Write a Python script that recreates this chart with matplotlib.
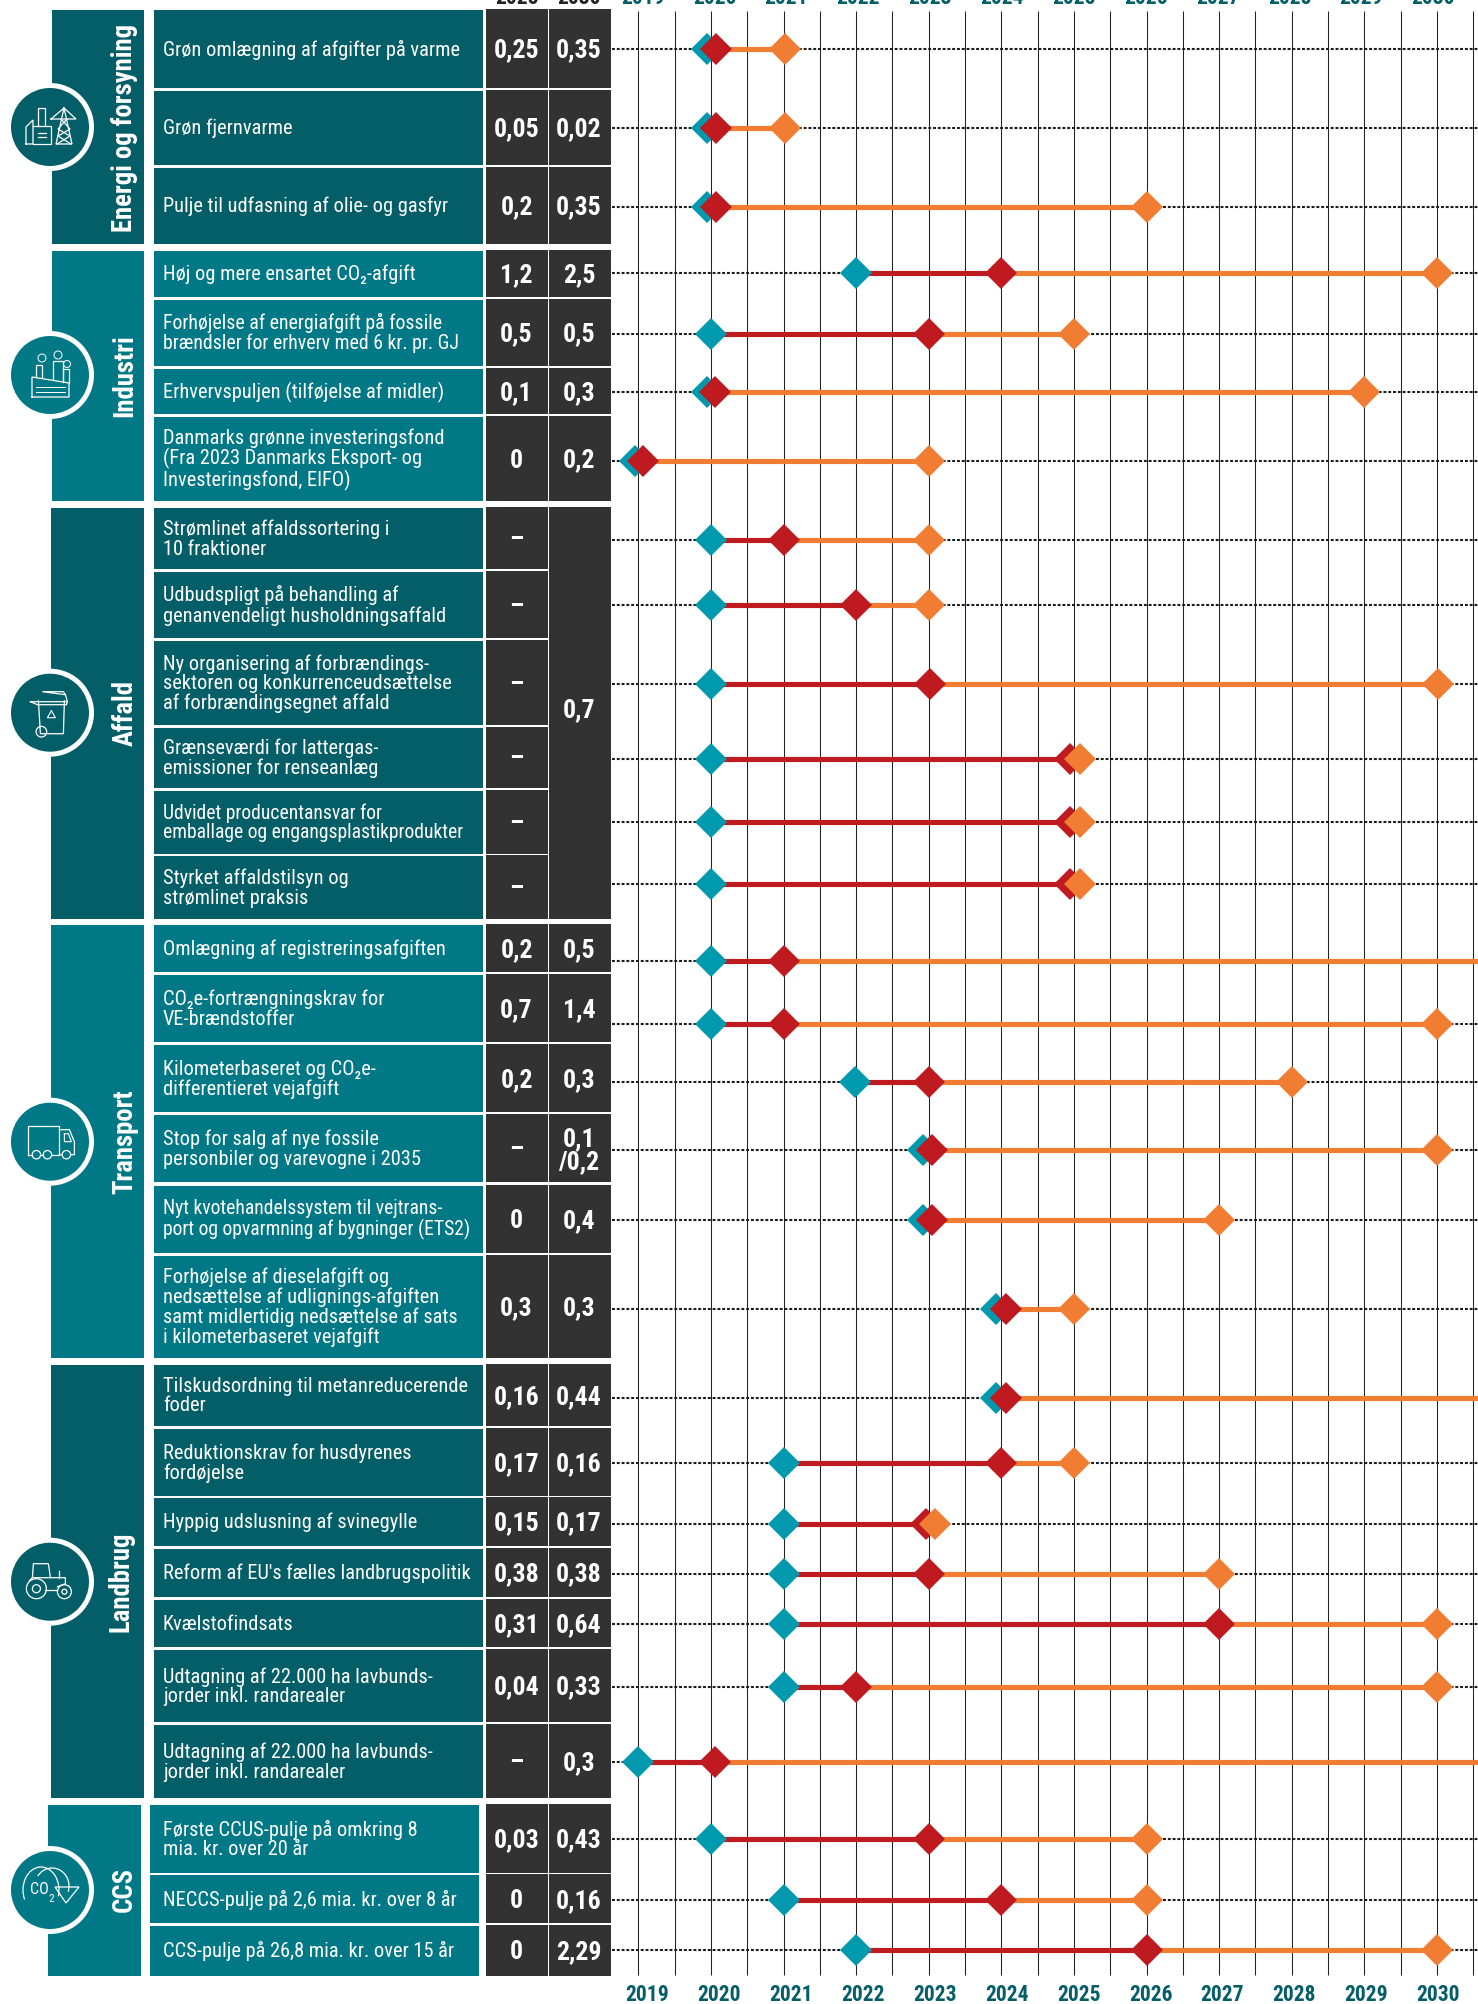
import numpy as np
import matplotlib
matplotlib.use("Agg")
import matplotlib.pyplot as plt
from matplotlib.patches import Rectangle, Circle, Arc, Polygon

W, H = 1478, 2004
dark_teal = "#045E67"
light_teal = "#017885"
cell_dark = "#323232"
teal = "#0099AD"
red = "#BE1A20"
orange = "#F07D32"

# chart data
groups = ["Energi og forsyning", "Industri", "Affald", "Transport", "Landbrug", "CCS"]
group_sizes = [3, 4, 6, 6, 7, 3]

measures = [
    "Grøn omlægning af afgifter på varme",
    "Grøn fjernvarme",
    "Pulje til udfasning af olie- og gasfyr",
    "Høj og mere ensartet CO₂-afgift",
    "Forhøjelse af energiafgift på fossile\nbrændsler for erhverv med 6 kr. pr. GJ",
    "Erhvervspuljen (tilføjelse af midler)",
    "Danmarks grønne investeringsfond\n(Fra 2023 Danmarks Eksport- og\nInvesteringsfond, EIFO)",
    "Strømlinet affaldssortering i\n10 fraktioner",
    "Udbudspligt på behandling af\ngenanvendeligt husholdningsaffald",
    "Ny organisering af forbrændings-\nsektoren og konkurrenceudsættelse\naf forbrændingsegnet affald",
    "Grænseværdi for lattergas-\nemissioner for renseanlæg",
    "Udvidet producentansvar for\nemballage og engangsplastikprodukter",
    "Styrket affaldstilsyn og\nstrømlinet praksis",
    "Omlægning af registreringsafgiften",
    "CO₂e-fortrængningskrav for\nVE-brændstoffer",
    "Kilometerbaseret og CO₂e-\ndifferentieret vejafgift",
    "Stop for salg af nye fossile\npersonbiler og varevogne i 2035",
    "Nyt kvotehandelssystem til vejtrans-\nport og opvarmning af bygninger (ETS2)",
    "Forhøjelse af dieselafgift og\nnedsættelse af udlignings-afgiften\nsamt midlertidig nedsættelse af sats\ni kilometerbaseret vejafgift",
    "Tilskudsordning til metanreducerende\nfoder",
    "Reduktionskrav for husdyrenes\nfordøjelse",
    "Hyppig udslusning af svinegylle",
    "Reform af EU's fælles landbrugspolitik",
    "Kvælstofindsats",
    "Udtagning af 22.000 ha lavbunds-\njorder inkl. randarealer",
    "Udtagning af 22.000 ha lavbunds-\njorder inkl. randarealer",
    "Første CCUS-pulje på omkring 8\nmia. kr. over 20 år",
    "NECCS-pulje på 2,6 mia. kr. over 8 år",
    "CCS-pulje på 26,8 mia. kr. over 15 år",
]

vals_2025 = ["0,25", "0,05", "0,2", "1,2", "0,5", "0,1", "0",
             "–", "–", "–", "–", "–", "–",
             "0,2", "0,7", "0,2", "–", "0", "0,3",
             "0,16", "0,17", "0,15", "0,38", "0,31", "0,04", "–",
             "0,03", "0", "0"]
vals_2030 = ["0,35", "0,02", "0,35", "2,5", "0,5", "0,3", "0,2",
             "", "", "", "", "", "",
             "0,5", "1,4", "0,3", "0,1\n/0,2", "0,4", "0,3",
             "0,44", "0,16", "0,17", "0,38", "0,64", "0,33", "0,3",
             "0,43", "0,16", "2,29"]
affald_2030 = "0,7"

start_year = [2019.94, 2019.94, 2019.94, 2022, 2020, 2019.94, 2018.95,
              2020, 2020, 2020, 2020, 2020, 2020,
              2020, 2020, 2021.99, 2022.92, 2022.92, 2023.93,
              2023.93, 2021, 2021, 2021, 2021, 2021, 2019,
              2020, 2021, 2022]
mid_year = [2020.07, 2020.07, 2020.07, 2024, 2023, 2020.06, 2019.06,
            2021, 2022, 2023.02, 2024.95, 2024.95, 2024.95,
            2021, 2021, 2023, 2023.05, 2023.05, 2024.07,
            2024.07, 2024, 2022.96, 2023, 2027, 2022, 2020.05,
            2023, 2024, 2026]
# nan = runs on past the right edge, no end marker
end_year = [2021.02, 2021.02, 2026.01, 2030, 2025, 2029, 2023,
            2023, 2023, 2030.01, 2025.08, 2025.08, 2025.08,
            np.nan, 2030, 2028, 2030, 2027, 2025,
            np.nan, 2025, 2023.09, 2027, 2030, 2030, np.nan,
            2026, 2026, 2030]

years = list(range(2019, 2031))

# layout in pixels of the picture
row_top = [10, 90.7, 168, 251, 299.7, 368.7, 417.3,
           508, 571.7, 641, 727.7, 791, 856.3,
           925, 975, 1045, 1115.3, 1185.7, 1255.7,
           1365, 1429, 1498, 1548.7, 1599.7, 1650, 1725,
           1805, 1875.3, 1926]
row_bot = [88, 165, 244, 296.7, 366, 414.3, 501,
           569, 638.3, 725.3, 788.3, 853.7, 919,
           972.3, 1042.3, 1112.3, 1182.3, 1253, 1358,
           1426.3, 1495.7, 1546, 1597, 1647.3, 1722.3, 1798,
           1872.7, 1923.3, 1975.7]
line_y = [49, 128, 207, 273, 334.4, 392, 460.9,
          539.5, 605, 684, 758.5, 822, 883.8,
          961.3, 1023.7, 1081.7, 1150.3, 1219.7, 1309.3,
          1398.3, 1463.3, 1524, 1574, 1624.3, 1687, 1761.7,
          1839.3, 1900, 1950.3]
group_x = [(52, 144), (52, 144), (51, 144), (51, 144), (51, 144), (48, 141)]
row_x = [(154, 483), (154, 483), (154, 483), (154, 483), (154, 483), (150, 479)]
group_colors = [dark_teal, light_teal, dark_teal, light_teal, dark_teal, light_teal]
circle_y = [127, 375, 712.7, 1141.7, 1581.7, 1890]
label_base_x = [131.6, 132.6, 132.6, 132.6, 128.6, 131.6]
label_y = [127.5, 376, 713, 1141.7, 1581.7, 1890]
# these rows are set tighter in the original
tight_rows = {4: 14.3, 11: 14.1, 17: 14.1}

fig = plt.figure(figsize=(W / 100, H / 100), dpi=100, facecolor="white")
ax = fig.add_axes([0, 0, 1, 1])
ax.set_xlim(0, W)
ax.set_ylim(H, 0)
ax.axis("off")

# timeline axes, x in years
tl = fig.add_axes([612 / W, 0, (W - 612) / W, 1])
tl.set_xlim(2020 + (612 - 711) / 72.6, 2020 + (W - 711) / 72.6)
tl.set_ylim(H, 0)
tl.axis("off")

for yr in np.arange(2019, 2031, 0.5):
    tl.plot([yr, yr], [11, 1975], color="#222222", lw=0.75, zorder=1, solid_capstyle="butt")

right_edge = tl.get_xlim()[1]
for i, y in enumerate(line_y):
    tl.plot([tl.get_xlim()[0], right_edge], [y, y], color="#1c1c1c", lw=1.5,
            dashes=(1.4, 0.9), zorder=2)
    end = end_year[i] if not np.isnan(end_year[i]) else right_edge
    tl.plot([mid_year[i], end], [y, y], color=orange, lw=3.7, zorder=3, solid_capstyle="butt")
    tl.plot([start_year[i], mid_year[i]], [y, y], color=red, lw=3.7, zorder=3, solid_capstyle="butt")
    tl.plot(start_year[i], y, marker="D", ms=16.2, color=teal, mew=0, zorder=4)
    tl.plot(mid_year[i], y, marker="D", ms=16.2, color=red, mew=0, zorder=5)
    if not np.isnan(end_year[i]):
        tl.plot(end_year[i], y, marker="D", ms=16.2, color=orange, mew=0, zorder=6)

# year labels, top ones are cut by the edge of the picture
for n, yr in enumerate(years):
    tl.text(2019.125 + n * 0.99, 2001, str(yr), ha="center", va="baseline", color=dark_teal,
            family="Roboto Condensed", weight="bold", fontsize=15.5)
    tl.text(2019.06 + n * 0.99, 3.5, str(yr), ha="center", va="baseline", color=dark_teal,
            family="Roboto Condensed", weight="bold", fontsize=15.5, clip_on=False)
ax.text(516.5, 3.5, "2025", ha="center", va="baseline", color="#222222",
        family="Roboto Condensed", weight="bold", fontsize=15.5)
ax.text(579, 3.5, "2030", ha="center", va="baseline", color="#222222",
        family="Roboto Condensed", weight="bold", fontsize=15.5)

# table rows
k = 0
for g, name in enumerate(groups):
    n = group_sizes[g]
    top, bot = row_top[k], row_bot[k + n - 1]
    x0, x1 = group_x[g]
    ax.add_patch(Rectangle((x0, top), x1 - x0, bot - top, fc=group_colors[g], ec="none"))
    for i in range(k, k + n):
        rx0, rx1 = row_x[g]
        ax.add_patch(Rectangle((rx0, row_top[i]), rx1 - rx0, row_bot[i] - row_top[i],
                               fc=group_colors[g], ec="none"))
        yc = (row_top[i] + row_bot[i]) / 2
        ax.text(163, yc + 0.5, measures[i], ha="left", va="center", color="white",
                family="Roboto Condensed", fontsize=tight_rows.get(i, 14.7), linespacing=1.04)
        ax.add_patch(Rectangle((486, row_top[i] - 1), 62, row_bot[i] - row_top[i] + 1,
                               fc=cell_dark, ec="none"))
        ax.text(516.5, yc + 1.5, vals_2025[i], ha="center", va="center", color="white",
                family="Roboto Condensed", weight="bold", fontsize=18.6)
        if vals_2030[i]:
            ax.add_patch(Rectangle((549, row_top[i] - 1), 62, row_bot[i] - row_top[i] + 1,
                                   fc=cell_dark, ec="none"))
            ax.text(579, yc + 1.5, vals_2030[i], ha="center", va="center", color="white",
                    family="Roboto Condensed", weight="bold", fontsize=18.6, linespacing=0.95)
    ax.text(label_base_x[g], label_y[g], name, rotation=90, rotation_mode="anchor",
            ha="center", va="baseline", color="white",
            family="Roboto Condensed", weight="bold", fontsize=19.2)
    ax.add_patch(Circle((50, circle_y[g]), 44, fc="white", ec="none", zorder=5))
    ax.add_patch(Circle((50, circle_y[g]), 39, fc=group_colors[g], ec="none", zorder=6))
    k += n

# merged Affald cell
ax.add_patch(Rectangle((549, 507), 62, 412, fc=cell_dark, ec="none"))
ax.text(579, 710, affald_2030, ha="center", va="center", color="white",
        family="Roboto Condensed", weight="bold", fontsize=18.6)


def stroke(cx, cy, pts, lw=0.9):
    xs = [cx + p[0] for p in pts]
    ys = [cy + p[1] for p in pts]
    ax.plot(xs, ys, color="white", lw=lw, zorder=7, solid_joinstyle="miter")


def ring(cx, cy, r, lw=0.9):
    ax.add_patch(Circle((cx, cy), r, fc="none", ec="white", lw=lw, zorder=7))


# energy icon
c = (50, 127)
stroke(*c, [(-24, 17), (-24, 0), (-17, -7), (-17, 17), (-24, 17)])
stroke(*c, [(-17, -1), (1, -1), (1, 17), (-17, 17)])
stroke(*c, [(-12, -1), (-12, -19), (-5, -19), (-5, -1)])
stroke(*c, [(-12, 6), (-4, 6)])
stroke(*c, [(-12, 10), (-4, 10)])
stroke(*c, [(14, -19), (6, 17), (22, 17), (14, -19)])
stroke(*c, [(1, -8), (26, -8), (14, -19), (1, -8)])
stroke(*c, [(11, -8), (20, 2), (8, 9), (21, 17)])
stroke(*c, [(17, -8), (8, 2), (20, 9), (7, 17)])

# industry icon
c = (50, 375)
stroke(*c, [(-18, 22), (-18, 2), (19, 8), (19, 22), (-18, 22)])
stroke(*c, [(-14, 2), (-14, -10), (-8, -10), (-8, 2)])
stroke(*c, [(3, 5), (3, -14), (13, -14), (13, 7)])
stroke(*c, [(13, 7), (13, -6), (19, -6), (19, 8)])
stroke(*c, [(-14, 12), (15, 12)], lw=0.7)
stroke(*c, [(-14, 17), (15, 17)], lw=0.7)
ring(-8 + c[0], c[1] - 17, 4, lw=0.7)
ring(8 + c[0], c[1] - 20, 4, lw=0.7)
ring(17 + c[0], c[1] - 11, 3.5, lw=0.7)

# bin icon
c = (49.4, 712.7)
stroke(*c, [(-11, -12), (-9, 21), (14, 21), (15, -12)])
stroke(*c, [(-19, -11), (18, -11), (16, -18), (-7, -21), (14, -21), (16, -18)])
stroke(*c, [(-19, -11), (-12, -8), (17, -8), (18, -11)])
ring(c[0] - 8, c[1] + 19, 5.3)
stroke(*c, [(2, -2), (6, 5), (-2, 5), (2, -2)], lw=0.8)

# truck icon
c = (49.4, 1141.7)
stroke(*c, [(-21, 13), (-21, -16), (10, -16), (10, 13), (-21, 13)])
stroke(*c, [(10, -12), (20, -12), (25, 0), (25, 13), (10, 13)])
stroke(*c, [(15, -8), (19, -8), (22, 0), (15, 0), (15, -8)], lw=0.8)
for dx in (-13, -2, 17):
    ax.add_patch(Circle((c[0] + dx, c[1] + 13), 4.2, fc=group_colors[3], ec="white", lw=0.9, zorder=7))

# tractor icon
c = (49.4, 1581.7)
stroke(*c, [(-17, -4), (-16, -18), (-1, -18), (1, -4)])
stroke(*c, [(-20, -1), (-17, -4), (16, -4), (16, 2), (8, 5)])
stroke(*c, [(10, -4), (10, -11)])
stroke(*c, [(-4, 8), (8, 8)])
ring(c[0] - 13, c[1] + 7, 10)
ring(c[0] - 13, c[1] + 7, 4)
ring(c[0] + 15, c[1] + 10, 7)
ring(c[0] + 15, c[1] + 10, 2.5)

# co2 icon
c = (50, 1890)
ax.add_artist(Arc((c[0] - 9, c[1]), 36, 46, theta1=150, theta2=20, color="white", lw=0.9, zorder=7))
ax.add_artist(Arc((c[0] + 2, c[1] - 4), 34, 36, theta1=215, theta2=20, color="white", lw=0.9, zorder=7))
ax.add_patch(Polygon([(55, 1887), (79, 1887), (66, 1903)], closed=True, fc="none", ec="white", lw=0.9, zorder=7))
ax.text(39, 1890, "CO", ha="center", va="center", color="white", family="Roboto Condensed",
        fontsize=11.5, zorder=7)
ax.text(51.5, 1899, "2", ha="center", va="center", color="white", family="Roboto Condensed",
        fontsize=8, zorder=7)

fig.savefig("out.png", dpi=100)
